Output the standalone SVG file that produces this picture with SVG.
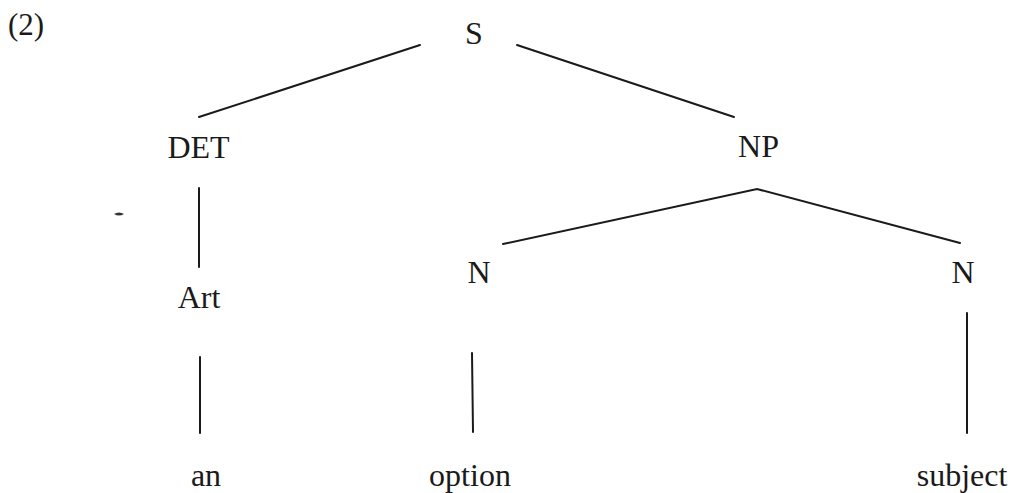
<svg xmlns="http://www.w3.org/2000/svg" width="1012" height="493" viewBox="0 0 1012 493">
<style>
.t{font-size:32px;fill:#1a1a1a;text-anchor:middle}
.edge{stroke:#1a1a1a;stroke-width:2;fill:none;stroke-linecap:round}
</style>
<rect width="1012" height="493" fill="#ffffff"/>
<g font-family="Liberation Serif, Times New Roman, serif">
<text id="label" class="t" x="8" y="35" style="text-anchor:start;font-size:31px">(2)</text>
<g id="connectors">
<line class="edge" x1="420" y1="45" x2="199" y2="117"/>
<line class="edge" x1="517" y1="45" x2="734" y2="117"/>
<line class="edge" x1="199" y1="188" x2="199" y2="267"/>
<line class="edge" x1="200" y1="357" x2="200" y2="433"/>
<polyline class="edge" points="503,244 757,189 960,243"/>
<line class="edge" x1="472" y1="353" x2="473" y2="432"/>
<line class="edge" x1="967" y1="313" x2="967" y2="433"/>
</g>
<g id="node-S"><text class="t" x="474" y="44">S</text></g>
<g id="node-DET"><text class="t" x="198.5" y="158">DET</text></g>
<g id="node-NP"><text class="t" x="758.5" y="157">NP</text></g>
<g id="node-Art"><text class="t" x="199" y="308">Art</text></g>
<g id="node-N1"><text class="t" x="479" y="283">N</text></g>
<g id="node-N2"><text class="t" x="963" y="283">N</text></g>
<g id="node-an"><text class="t" x="206" y="486">an</text></g>
<g id="node-option"><text class="t" x="470" y="486">option</text></g>
<g id="node-subject"><text class="t" x="962" y="486">subject</text></g>
</g>
<path d="M114,214 q5,-3 10,0 q-5,3 -10,0z" fill="#333"/>
</svg>
